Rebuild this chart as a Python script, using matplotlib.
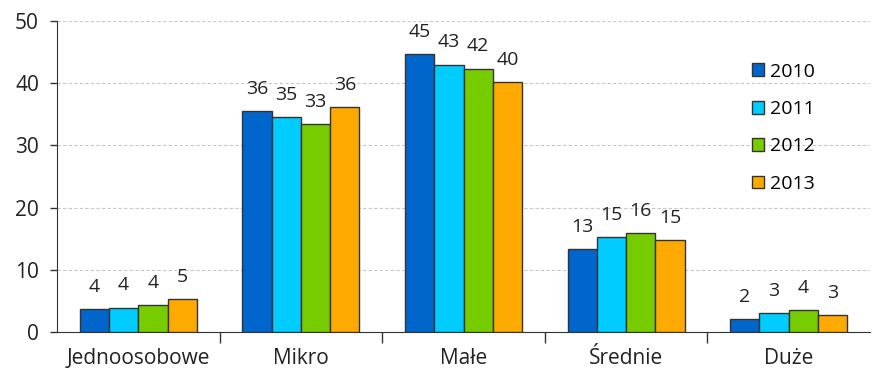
import numpy as np
import matplotlib.pyplot as plt

plt.rcParams['font.family'] = ['Open Sans', 'DejaVu Sans']

categories = ["Jednoosobowe", "Mikro", "Małe", "Średnie", "Duże"]
years = ["2010", "2011", "2012", "2013"]
values = {
    "2010": [3.7, 35.5, 44.6, 13.4, 2.1],
    "2011": [3.95, 34.5, 42.95, 15.25, 3.05],
    "2012": [4.4, 33.4, 42.3, 15.9, 3.5],
    "2013": [5.35, 36.1, 40.2, 14.8, 2.8],
}
labels = {
    "2010": [4, 36, 45, 13, 2],
    "2011": [4, 35, 43, 15, 3],
    "2012": [4, 33, 42, 16, 4],
    "2013": [5, 36, 40, 15, 3],
}
colors = ["#0066CC", "#00CCFF", "#77CC00", "#FFAA00"]

fig = plt.figure(figsize=(8.73, 3.71), dpi=100)
ax = fig.add_axes([57 / 873, 1 - 332.3 / 371, (870 - 57) / 873, (332.3 - 20.7) / 371])

x = np.arange(len(categories))
w = 0.18
for i, yr in enumerate(years):
    pos = x + (i - 1.5) * w
    ax.bar(pos, values[yr], width=w, color=colors[i], edgecolor="#333333",
           linewidth=1, label=yr, zorder=3)
    for px, v, lab in zip(pos, values[yr], labels[yr]):
        ax.annotate(str(lab), (px, v), xytext=(0, 16), textcoords="offset points",
                    ha="center", va="center", fontsize=14, color="#222222")

ax.set_xlim(-0.5, len(categories) - 0.5)
ax.set_ylim(0, 50)
ax.set_yticks(range(0, 51, 10))
ax.yaxis.grid(True, linestyle=(0, (3, 2)), color="#C8C8C8", linewidth=0.8, zorder=0)
ax.set_axisbelow(True)

ax.set_xticks(x)
ax.set_xticklabels(categories)
ax.set_xticks(np.arange(0.5, len(categories) - 0.5, 1), minor=True)
ax.tick_params(axis="x", which="major", length=0, pad=11, labelsize=15, labelcolor="#222222")
ax.tick_params(axis="x", which="minor", length=8, width=1, color="#333333")
ax.tick_params(axis="y", length=5, width=1, color="#333333", labelsize=15, pad=8,
               labelcolor="#222222")

for s in ["top", "right"]:
    ax.spines[s].set_visible(False)
ax.spines["left"].set_color("#333333")
ax.spines["bottom"].set_color("#333333")

leg = ax.legend(loc="upper left", bbox_to_anchor=(0.833, 0.922), frameon=False,
                fontsize=14, handlelength=0.65, handleheight=0.65,
                handletextpad=0.3, labelspacing=1.0)

fig.savefig("out.png", dpi=100)
